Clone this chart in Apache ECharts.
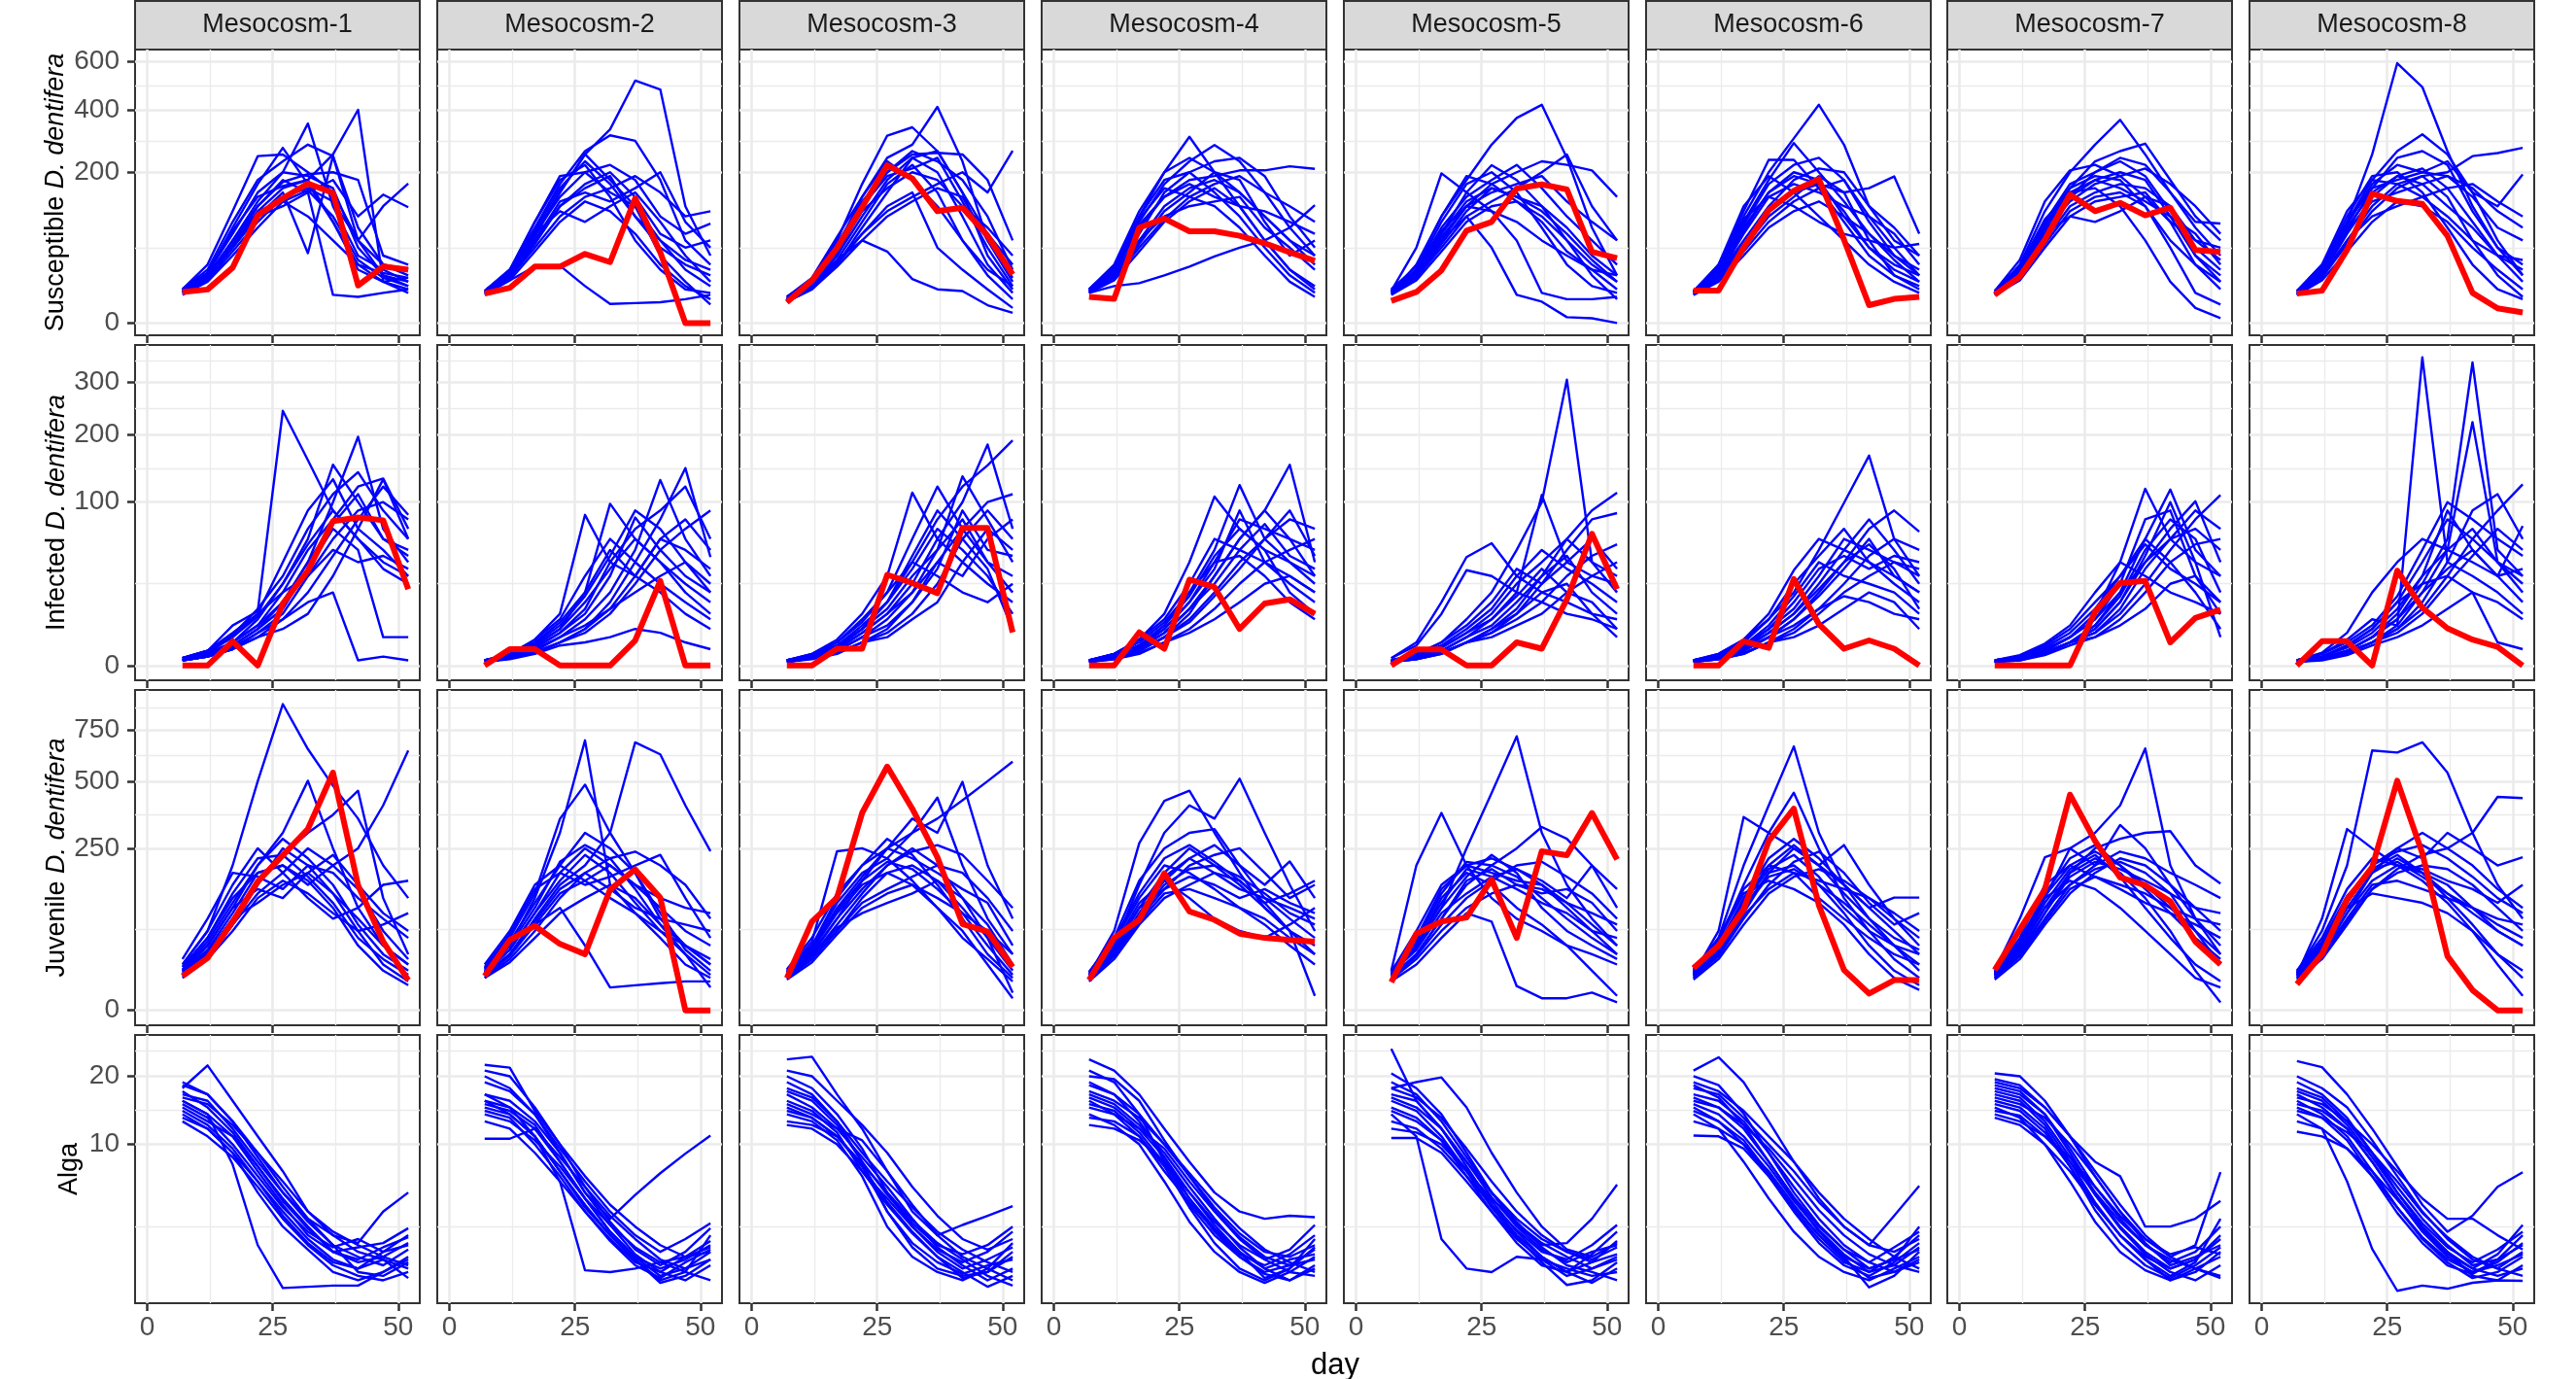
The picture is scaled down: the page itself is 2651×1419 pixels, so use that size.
<!DOCTYPE html>
<html>

<head>
  <meta charset="utf-8" />
  <title>Mesocosm simulations vs observations</title>
  <script src="https://cdn.jsdelivr.net/npm/echarts@6/dist/echarts.min.js"></script>
</head>

<body style="margin:0;background:#ffffff;">
  <div id="chart" style="width:2651px;height:1419px;"></div>
  <script type="text/javascript">

    // Sampling days (shared by every panel)
    let days = [7, 12, 17, 22, 27, 32, 37, 42, 47, 52];
    let mesocosms = ['Mesocosm-1', 'Mesocosm-2', 'Mesocosm-3', 'Mesocosm-4',
      'Mesocosm-5', 'Mesocosm-6', 'Mesocosm-7', 'Mesocosm-8'];
    let dayTicks = [0, 25, 50];
    let dayMinor = [12.5, 37.5];

    // y breaks (sqrt scale) per row; the last one is off-panel, used for minor lines
    let suscBreaks = [0, 200, 400, 600, 800];
    let infBreaks = [0, 100, 200, 300, 400];
    let juvBreaks = [0, 250, 500, 750, 1000];
    let algaBreaks = [0, 10, 20, 30];

    // Observed (red) lines, one per mesocosm
    let suscObs = [
      [8.5, 9.9, 27, 102, 137, 171, 149, 12.4, 28, 25],
      [7.6, 10.9, 28, 28, 42, 32.6, 137, 44, 0, 0],
      [3.8, 15.9, 49.7, 118, 219, 184, 110, 117, 67, 20.8],
      [6, 5.1, 80, 96, 74, 74, 67, 56, 44, 34],
      [4.3, 8.5, 24.4, 75, 90, 159, 169, 157, 44.5, 37],
      [9.2, 9.2, 50, 112, 154, 182, 61, 2.8, 5.1, 6],
      [7, 19, 61, 145, 110, 127, 102, 117, 47, 44.5],
      [7.6, 9.2, 47, 147, 131, 125, 67, 8, 1.9, 1]
    ];
    let infObs = [
      [0, 0, 2.2, 0, 14.4, 33.7, 78, 82, 79, 21.8],
      [0, 1, 1, 0, 0, 0, 2.35, 26.8, 0, 0],
      [0, 0, 1.06, 1.06, 30.8, 25.5, 19.6, 71, 71, 4.1],
      [0, 0, 4.1, 1.06, 27.6, 23, 5, 14.4, 16.4, 10],
      [0, 0.96, 0.96, 0, 0, 2, 1.06, 16.4, 65, 21.8],
      [0, 0, 2.2, 1.17, 28, 6.4, 1.06, 2.35, 1.06, 0],
      [0, 0, 0, 0, 10.8, 25.5, 26.8, 2, 8.5, 11.7],
      [0, 2.2, 2.2, 0, 33.7, 12.5, 5.2, 2.5, 1.3, 0]
    ];
    let juvObs = [
      [11.2, 26, 75, 158, 229, 313, 538, 149, 45, 8.7],
      [11.2, 47, 68, 42, 30, 139, 189, 121, 0, 0],
      [9.9, 75, 121, 371, 566, 387, 223, 71, 59, 18],
      [8.7, 50, 78, 179, 93, 78, 56, 50, 47, 45],
      [7.6, 56, 75, 82, 163, 50, 241, 229, 371, 217],
      [17, 40, 97, 273, 387, 105, 15.5, 2.7, 8.7, 8.7],
      [15.5, 62, 139, 443, 273, 168, 149, 113, 45, 20],
      [6.5, 30, 117, 195, 502, 235, 28, 3.9, 0, 0]
    ];

    // Simulated (blue) lines, 14 per mesocosm
    let suscSim = [
      [[10, 30, 110, 245, 250, 200, 150, 60, 30, 20], [9, 22, 80, 170, 270, 170, 90, 30, 22, 18],
      [8, 18, 60, 130, 200, 350, 120, 40, 25, 15], [9, 20, 55, 110, 160, 180, 250, 400, 15, 10],
      [10, 25, 90, 180, 230, 280, 245, 80, 30, 25], [8, 18, 50, 100, 150, 43, 245, 60, 20, 12],
      [9, 20, 55, 120, 180, 150, 7, 6, 8, 10], [8, 16, 45, 90, 140, 160, 130, 60, 120, 171],
      [9, 18, 50, 100, 120, 150, 180, 100, 145, 118], [10, 22, 70, 150, 200, 190, 160, 50, 20, 15],
      [8, 18, 50, 110, 130, 100, 60, 30, 15, 8], [9, 20, 60, 120, 175, 195, 200, 180, 40, 30],
      [7, 15, 40, 80, 130, 155, 100, 35, 18, 12], [9, 22, 75, 140, 165, 180, 90, 25, 15, 18]],
      [[8, 22, 70, 150, 250, 330, 517, 480, 120, 40], [9, 25, 80, 170, 260, 310, 292, 180, 60, 30],
      [8, 20, 65, 150, 251, 180, 120, 60, 25, 12], [9, 22, 70, 140, 200, 220, 180, 100, 70, 87],
      [8, 18, 55, 120, 170, 200, 140, 70, 50, 60], [8, 16, 28, 29, 12, 3.2, 3.5, 3.8, 5, 7],
      [9, 24, 90, 190, 200, 150, 120, 40, 15, 3], [8, 20, 60, 130, 150, 130, 160, 200, 90, 50],
      [9, 22, 75, 160, 230, 170, 100, 50, 30, 20], [8, 18, 50, 100, 140, 160, 190, 150, 100, 110],
      [7, 16, 45, 90, 130, 110, 70, 30, 12, 5], [9, 25, 90, 180, 220, 140, 60, 25, 10, 8],
      [8, 18, 60, 120, 160, 190, 100, 60, 35, 25], [8, 20, 70, 110, 90, 120, 150, 90, 40, 15]],
      [[5, 14, 50, 140, 240, 280, 411, 230, 60, 15], [6, 16, 60, 170, 309, 337, 260, 150, 40, 10],
      [5, 12, 40, 120, 200, 250, 255, 250, 180, 60], [4, 10, 30, 80, 150, 240, 260, 150, 70, 30],
      [6, 18, 65, 140, 230, 180, 120, 60, 25, 12], [5, 14, 35, 60, 45, 17, 10, 9, 2.8, 0.9],
      [5, 12, 30, 70, 110, 140, 170, 200, 150, 261], [4, 11, 35, 90, 170, 220, 150, 60, 20, 5],
      [6, 15, 45, 110, 160, 200, 180, 120, 80, 40], [5, 13, 40, 100, 180, 240, 200, 100, 30, 8],
      [5, 12, 32, 70, 120, 150, 50, 25, 10, 2], [6, 16, 55, 130, 200, 260, 230, 180, 100, 25],
      [4, 10, 28, 60, 100, 130, 160, 140, 60, 18], [5, 14, 45, 120, 190, 210, 240, 130, 50, 12]],
      [[10, 30, 110, 200, 305, 200, 120, 60, 25, 10], [9, 25, 90, 170, 230, 279, 230, 150, 80, 40],
      [8, 20, 70, 150, 200, 230, 240, 190, 100, 50], [9, 22, 80, 140, 180, 190, 205, 205, 216, 209],
      [10, 28, 100, 180, 200, 150, 100, 50, 20, 8], [8, 12, 14, 20, 28, 39, 50, 60, 80, 122],
      [9, 20, 60, 120, 160, 180, 150, 100, 60, 30], [10, 26, 95, 160, 140, 120, 80, 40, 15, 6],
      [8, 18, 55, 110, 150, 200, 180, 90, 40, 60], [9, 24, 85, 140, 170, 140, 120, 110, 90, 70],
      [8, 16, 45, 90, 130, 160, 120, 60, 25, 12], [10, 28, 100, 200, 240, 200, 150, 100, 60, 40],
      [9, 20, 60, 100, 120, 130, 140, 80, 50, 25], [8, 18, 50, 95, 140, 170, 190, 150, 120, 90]],
      [[8, 30, 100, 180, 280, 370, 419, 240, 80, 20], [9, 50, 197, 150, 110, 90, 60, 40, 25, 20],
      [8, 22, 70, 150, 219, 180, 120, 60, 30, 15], [7, 18, 60, 120, 170, 200, 230, 220, 205, 140],
      [9, 25, 90, 170, 200, 150, 80, 30, 12, 8], [8, 20, 60, 100, 50, 7, 4, 0.3, 0.2, 0],
      [9, 22, 75, 120, 110, 60, 8, 5, 5, 6], [8, 18, 55, 110, 160, 140, 120, 80, 40, 20],
      [9, 24, 80, 140, 180, 220, 160, 100, 60, 30], [8, 20, 65, 120, 150, 170, 190, 130, 90, 60],
      [10, 28, 100, 190, 170, 130, 90, 45, 25, 10], [8, 18, 50, 100, 130, 160, 200, 250, 120, 60],
      [9, 22, 70, 130, 160, 140, 110, 70, 35, 15], [7, 16, 45, 90, 120, 130, 100, 60, 20, 5]],
      [[8, 30, 100, 200, 300, 419, 280, 120, 60, 40], [9, 25, 90, 180, 285, 200, 130, 70, 40, 25],
      [8, 28, 110, 234, 234, 160, 90, 40, 20, 12], [9, 24, 85, 170, 220, 240, 180, 100, 50, 20],
      [7, 18, 55, 110, 150, 170, 150, 160, 189, 70], [8, 22, 75, 150, 200, 180, 100, 50, 25, 15],
      [9, 26, 95, 140, 120, 90, 70, 60, 50, 55], [8, 20, 60, 120, 180, 210, 200, 120, 80, 40],
      [7, 16, 45, 90, 130, 160, 180, 90, 40, 20], [9, 30, 120, 190, 150, 100, 60, 30, 15, 8],
      [8, 20, 70, 140, 170, 150, 120, 100, 70, 30], [8, 18, 50, 100, 140, 190, 150, 60, 20, 10],
      [9, 24, 80, 150, 190, 170, 110, 50, 30, 20], [7, 15, 40, 80, 110, 130, 100, 70, 35, 15]],
      [[8, 30, 110, 200, 280, 363, 250, 150, 80, 40], [7, 22, 80, 160, 230, 260, 283, 180, 100, 60],
      [9, 35, 130, 205, 220, 190, 140, 90, 60, 50], [8, 25, 90, 170, 200, 240, 220, 150, 90, 87],
      [7, 20, 70, 140, 180, 200, 180, 100, 40, 15], [8, 24, 85, 150, 160, 120, 60, 15, 2, 0.2],
      [7, 18, 55, 110, 140, 150, 120, 50, 8, 3], [8, 22, 75, 130, 170, 190, 210, 170, 120, 70],
      [9, 28, 95, 150, 180, 160, 130, 100, 70, 30], [7, 18, 60, 120, 150, 170, 160, 120, 40, 20],
      [8, 20, 70, 100, 90, 110, 140, 120, 60, 35], [8, 25, 80, 140, 200, 230, 190, 110, 50, 25],
      [7, 16, 50, 100, 130, 140, 150, 90, 30, 10], [9, 26, 90, 160, 190, 180, 120, 60, 30, 15]],
      [[9, 30, 90, 250, 594, 490, 260, 120, 50, 20], [8, 25, 90, 180, 260, 313, 250, 150, 60, 20],
      [8, 22, 75, 160, 240, 260, 220, 110, 50, 30], [7, 18, 60, 120, 170, 190, 200, 245, 254, 270],
      [8, 24, 85, 170, 220, 200, 230, 150, 120, 194], [9, 28, 100, 190, 200, 150, 80, 30, 10, 5],
      [7, 20, 70, 140, 190, 210, 160, 90, 40, 15], [8, 22, 75, 130, 150, 170, 190, 140, 80, 60],
      [7, 16, 45, 90, 130, 120, 90, 50, 25, 10], [9, 26, 90, 160, 180, 200, 190, 160, 110, 80],
      [8, 18, 55, 110, 160, 190, 140, 60, 20, 6], [7, 20, 60, 100, 120, 140, 160, 170, 130, 100],
      [8, 24, 80, 150, 190, 170, 120, 80, 40, 25], [9, 30, 110, 180, 170, 140, 100, 60, 40, 35]]
    ];

    let infSim = [
      [[0.2, 0.8, 6, 11, 243, 158, 90, 60, 40, 30], [0.1, 0.3, 1.5, 5, 15, 40, 100, 196, 70, 40],
      [0.1, 0.4, 2, 8, 25, 60, 151, 100, 60, 50], [0.2, 0.6, 2, 6, 20, 50, 80, 120, 131, 70],
      [0.1, 0.3, 1.2, 4, 10, 30, 60, 90, 100, 80], [0.2, 0.8, 3, 10, 40, 90, 130, 70, 50, 30],
      [0.1, 0.3, 1, 3, 8, 15, 20, 0.1, 0.3, 0.1], [0.1, 0.4, 1.5, 5, 12, 35, 70, 50, 3, 3],
      [0.2, 0.8, 3.5, 12, 30, 70, 110, 140, 90, 60], [0.1, 0.3, 1, 4, 8, 20, 45, 80, 120, 85],
      [0.2, 0.6, 3, 9, 25, 55, 90, 60, 35, 25], [0.1, 0.4, 2, 6, 15, 40, 75, 110, 60, 45],
      [0.1, 0.3, 1, 3, 5, 10, 30, 70, 130, 60], [0.2, 0.8, 4, 10, 20, 30, 50, 40, 45, 35]],
      [[0.1, 0.4, 2.5, 10, 85, 40, 30, 20, 10, 5], [0.1, 0.3, 1.5, 5, 20, 98, 60, 40, 25, 15],
      [0.1, 0.3, 1.2, 4, 10, 30, 82, 50, 30, 20], [0.05, 0.2, 0.8, 3, 8, 20, 50, 129, 60, 30],
      [0.05, 0.2, 0.6, 2, 5, 15, 40, 80, 146, 44], [0.1, 0.3, 1.2, 4, 12, 40, 70, 90, 120, 60],
      [0.1, 0.5, 2.5, 8, 30, 60, 40, 25, 15, 8], [0.05, 0.2, 0.6, 2, 4, 10, 25, 50, 70, 90],
      [0.1, 0.3, 1, 3, 6, 12, 20, 30, 40, 25], [0.1, 0.4, 1.5, 5, 15, 35, 60, 40, 20, 10],
      [0.05, 0.15, 0.5, 1.5, 2, 3, 5, 4, 2, 1], [0.1, 0.4, 1.8, 6, 18, 45, 90, 70, 40, 20],
      [0.05, 0.2, 0.7, 2, 5, 12, 30, 60, 50, 35], [0.1, 0.5, 2, 7, 20, 50, 30, 60, 80, 50]],
      [[0.1, 0.3, 1.2, 5, 15, 40, 80, 120, 150, 190], [0.1, 0.3, 1, 4, 10, 25, 60, 100, 183, 70],
      [0.05, 0.2, 0.8, 3, 8, 20, 50, 134, 80, 40], [0.1, 0.4, 2, 8, 20, 60, 120, 70, 40, 20],
      [0.1, 0.5, 2.5, 10, 30, 112, 60, 40, 25, 15], [0.05, 0.2, 0.6, 2, 5, 15, 40, 70, 100, 110],
      [0.1, 0.4, 1.5, 6, 15, 35, 70, 50, 30, 10], [0.05, 0.2, 0.6, 2, 4, 10, 25, 60, 90, 60],
      [0.1, 0.3, 1.2, 5, 12, 30, 50, 80, 40, 30], [0.1, 0.3, 1, 4, 10, 20, 40, 30, 60, 80],
      [0.05, 0.15, 0.5, 2, 3, 8, 15, 40, 70, 50], [0.1, 0.4, 1.5, 5, 15, 45, 90, 60, 35, 5],
      [0.1, 0.5, 2, 7, 20, 40, 30, 20, 15, 25], [0.05, 0.2, 0.8, 3, 6, 15, 35, 90, 50, 45]],
      [[0.1, 0.5, 2.5, 10, 40, 107, 70, 50, 40, 30], [0.1, 0.4, 1.5, 6, 20, 50, 122, 60, 40, 25],
      [0.05, 0.2, 0.8, 3, 10, 30, 60, 90, 151, 40], [0.1, 0.3, 1.2, 5, 15, 40, 80, 70, 60, 50],
      [0.05, 0.2, 0.8, 3, 8, 20, 40, 60, 80, 70], [0.1, 0.5, 2.5, 8, 25, 60, 50, 40, 30, 20],
      [0.05, 0.15, 0.6, 2, 5, 12, 25, 40, 50, 60], [0.1, 0.3, 1.2, 4, 12, 30, 60, 90, 60, 30],
      [0.1, 0.4, 1.5, 6, 18, 45, 70, 50, 20, 10], [0.05, 0.15, 0.5, 2, 4, 8, 15, 25, 30, 20],
      [0.1, 0.3, 1.5, 5, 15, 35, 90, 40, 25, 15], [0.05, 0.2, 0.8, 3, 7, 18, 35, 60, 90, 45],
      [0.1, 0.5, 2, 7, 20, 40, 45, 30, 15, 8], [0.05, 0.25, 1, 4, 12, 25, 50, 75, 45, 35]],
      [[0.1, 0.4, 2, 8, 20, 50, 100, 306, 40, 20], [0.2, 2, 15, 44, 56, 30, 20, 15, 10, 8],
      [0.2, 1.5, 10, 34, 30, 20, 15, 10, 8, 5], [0.05, 0.2, 0.8, 3, 8, 20, 109, 40, 30, 25],
      [0.05, 0.15, 0.6, 2, 5, 12, 30, 60, 90, 112], [0.05, 0.2, 0.6, 2, 4, 10, 25, 50, 80, 87],
      [0.1, 0.3, 1.2, 4, 10, 25, 40, 60, 40, 30], [0.05, 0.15, 0.5, 2, 4, 8, 15, 30, 45, 55],
      [0.1, 0.4, 1.5, 5, 12, 30, 50, 35, 25, 15], [0.05, 0.2, 0.8, 3, 6, 15, 30, 45, 20, 10],
      [0.1, 0.3, 1.2, 4, 8, 18, 35, 20, 30, 40], [0.05, 0.15, 0.5, 2, 3, 6, 10, 20, 15, 5],
      [0.1, 0.5, 2, 6, 15, 35, 25, 40, 60, 35], [0.05, 0.2, 0.6, 2, 5, 10, 20, 25, 10, 3]],
      [[0.1, 0.4, 2, 8, 20, 50, 99, 165, 60, 30], [0.1, 0.5, 2.5, 10, 34, 60, 50, 40, 30, 20],
      [0.05, 0.2, 0.8, 3, 8, 20, 40, 70, 90, 67], [0.1, 0.3, 1.2, 5, 12, 30, 60, 50, 40, 30],
      [0.05, 0.15, 0.6, 2, 5, 12, 25, 45, 60, 50], [0.1, 0.4, 1.5, 6, 18, 40, 30, 25, 20, 10],
      [0.05, 0.2, 0.8, 3, 8, 18, 35, 60, 30, 20], [0.1, 0.5, 2.5, 8, 25, 45, 70, 40, 25, 15],
      [0.05, 0.15, 0.5, 2, 4, 10, 20, 30, 40, 35], [0.1, 0.3, 1.2, 4, 10, 25, 50, 80, 50, 25],
      [0.05, 0.15, 0.5, 2, 3, 6, 12, 20, 15, 5], [0.1, 0.3, 1.5, 5, 15, 35, 45, 35, 45, 40],
      [0.05, 0.25, 1, 4, 10, 22, 40, 55, 35, 12], [0.1, 0.3, 1, 3, 6, 12, 18, 15, 10, 8]],
      [[0.05, 0.2, 0.8, 3, 10, 40, 117, 60, 40, 30], [0.05, 0.15, 0.6, 2, 6, 20, 60, 116, 50, 30],
      [0.05, 0.15, 0.6, 2, 5, 15, 40, 70, 101, 40], [0.05, 0.15, 0.5, 2, 4, 10, 25, 50, 80, 109],
      [0.1, 0.3, 1.5, 5, 15, 30, 60, 40, 20, 5], [0.05, 0.2, 0.8, 3, 8, 25, 80, 90, 30, 10],
      [0.1, 0.4, 1.8, 6, 20, 40, 30, 20, 15, 10], [0.05, 0.15, 0.6, 2, 4, 12, 35, 60, 70, 50],
      [0.05, 0.2, 0.7, 2, 6, 18, 50, 80, 60, 20], [0.05, 0.1, 0.4, 1.5, 3, 8, 20, 40, 55, 60],
      [0.1, 0.3, 1.2, 4, 12, 30, 55, 35, 25, 15], [0.05, 0.2, 0.6, 2, 5, 15, 45, 100, 40, 3],
      [0.05, 0.1, 0.5, 2, 3, 6, 12, 25, 30, 15], [0.1, 0.3, 1, 3, 8, 20, 40, 60, 90, 70]],
      [[0.1, 0.5, 2.5, 8, 6, 356, 40, 30, 20, 10], [0.05, 0.2, 0.8, 3, 8, 25, 60, 344, 50, 30],
      [0.05, 0.15, 0.6, 2, 6, 20, 50, 222, 40, 25], [0.05, 0.15, 0.6, 2, 5, 12, 30, 60, 90, 123],
      [0.1, 0.6, 4, 20, 40, 60, 50, 40, 30, 73], [0.1, 0.3, 1.5, 5, 15, 40, 80, 60, 40, 20],
      [0.05, 0.2, 0.8, 3, 10, 30, 90, 50, 30, 15], [0.05, 0.15, 0.5, 2, 4, 10, 25, 45, 70, 50],
      [0.1, 0.3, 1.2, 4, 12, 30, 50, 70, 40, 30], [0.05, 0.1, 0.4, 1.5, 3, 6, 12, 20, 2, 1],
      [0.1, 0.5, 2, 6, 18, 50, 100, 80, 60, 45], [0.05, 0.2, 0.7, 2, 5, 15, 40, 90, 110, 60],
      [0.1, 0.3, 1.5, 5, 15, 25, 30, 20, 15, 8], [0.05, 0.2, 0.8, 3, 8, 20, 35, 50, 30, 35]]
    ];

    let juvSim = [
      [[20, 60, 200, 500, 893, 650, 480, 350, 200, 120], [15, 40, 100, 200, 300, 502, 250, 100, 40, 20],
      [12, 30, 80, 160, 230, 300, 364, 459, 120, 30], [18, 50, 120, 180, 200, 150, 200, 250, 400, 643],
      [25, 80, 180, 170, 140, 200, 180, 120, 80, 50], [10, 25, 70, 150, 250, 200, 130, 60, 20, 8],
      [14, 35, 90, 180, 200, 160, 100, 40, 15, 6], [12, 28, 70, 130, 180, 250, 200, 140, 60, 25],
      [20, 60, 150, 250, 180, 120, 80, 100, 150, 160], [16, 45, 110, 200, 280, 220, 150, 70, 30, 15],
      [11, 25, 60, 120, 160, 130, 90, 60, 70, 90], [15, 40, 100, 140, 120, 180, 230, 150, 90, 60],
      [13, 32, 80, 110, 150, 180, 130, 80, 40, 20], [18, 50, 130, 220, 230, 170, 110, 50, 25, 12]],
      [[15, 40, 120, 300, 694, 150, 90, 60, 40, 20], [12, 30, 80, 150, 200, 300, 684, 624, 400, 241],
      [18, 50, 130, 349, 485, 300, 180, 80, 40, 20], [14, 35, 90, 180, 250, 200, 150, 100, 60, 40],
      [10, 25, 60, 120, 180, 220, 240, 200, 150, 80], [20, 60, 150, 200, 160, 120, 90, 50, 20, 10],
      [12, 30, 70, 100, 40, 5, 6, 7, 8, 8], [16, 45, 110, 200, 300, 250, 180, 90, 35, 15],
      [11, 28, 70, 130, 160, 200, 150, 120, 100, 90], [13, 35, 90, 160, 230, 180, 110, 60, 30, 12],
      [17, 55, 140, 180, 150, 170, 200, 230, 120, 50], [10, 22, 50, 90, 120, 150, 120, 70, 40, 25],
      [14, 40, 100, 210, 260, 220, 140, 70, 30, 5], [12, 30, 75, 140, 180, 140, 100, 80, 70, 60]],
      [[12, 40, 120, 200, 250, 300, 350, 420, 500, 589], [10, 30, 80, 160, 250, 350, 300, 497, 200, 80],
      [14, 45, 241, 250, 220, 300, 431, 200, 80, 30], [16, 50, 130, 200, 280, 230, 150, 80, 30, 10],
      [11, 28, 70, 130, 200, 250, 200, 120, 50, 15], [13, 35, 90, 150, 180, 150, 100, 60, 20, 1.4],
      [10, 25, 60, 110, 140, 170, 200, 180, 120, 60], [15, 40, 110, 180, 220, 160, 100, 50, 25, 8],
      [12, 32, 80, 140, 200, 240, 260, 230, 160, 100], [9, 22, 55, 100, 130, 150, 120, 90, 60, 30],
      [14, 38, 100, 170, 250, 220, 180, 140, 110, 40], [11, 28, 65, 90, 110, 130, 160, 120, 70, 20],
      [13, 35, 95, 160, 210, 190, 140, 90, 40, 12], [10, 25, 60, 120, 180, 200, 160, 100, 50, 3]],
      [[12, 60, 266, 418, 459, 300, 180, 100, 60, 40], [10, 40, 150, 300, 400, 350, 511, 300, 150, 60],
      [14, 50, 160, 250, 300, 313, 200, 120, 80, 50], [9, 30, 90, 160, 220, 260, 200, 150, 211, 120],
      [11, 35, 100, 180, 250, 200, 150, 100, 60, 30], [13, 45, 120, 200, 180, 140, 100, 70, 40, 20],
      [8, 25, 70, 120, 150, 180, 160, 110, 60, 2], [12, 40, 110, 160, 120, 80, 60, 50, 70, 100],
      [10, 30, 80, 140, 200, 230, 250, 180, 120, 150], [11, 32, 90, 170, 220, 180, 140, 120, 100, 80],
      [9, 28, 75, 130, 140, 120, 100, 80, 50, 30], [14, 48, 130, 220, 260, 210, 160, 110, 130, 160],
      [10, 30, 85, 150, 190, 200, 170, 130, 90, 70], [12, 38, 100, 140, 170, 150, 120, 140, 110, 90]],
      [[12, 40, 100, 250, 450, 715, 300, 150, 80, 40], [15, 200, 371, 200, 120, 80, 60, 40, 30, 20],
      [10, 30, 80, 150, 200, 250, 320, 280, 200, 140], [14, 60, 150, 200, 180, 160, 150, 100, 60, 30],
      [11, 40, 120, 180, 150, 100, 70, 40, 15, 2], [13, 35, 90, 130, 170, 190, 160, 120, 200, 100],
      [9, 25, 60, 100, 130, 150, 140, 110, 70, 40], [12, 45, 130, 210, 200, 170, 120, 80, 50, 30],
      [10, 28, 70, 120, 160, 200, 210, 170, 130, 80], [15, 50, 140, 200, 220, 190, 150, 110, 90, 70],
      [8, 20, 50, 90, 75, 5.6, 1.4, 1.4, 3, 0.6], [12, 38, 100, 170, 230, 180, 100, 60, 40, 25],
      [11, 30, 80, 160, 190, 150, 130, 140, 110, 60], [13, 42, 110, 190, 170, 140, 110, 90, 60, 50]],
      [[14, 50, 200, 400, 663, 300, 150, 80, 40, 20], [12, 60, 356, 300, 250, 200, 150, 100, 60, 30],
      [16, 45, 150, 300, 451, 250, 120, 60, 25, 10], [10, 30, 90, 180, 250, 200, 260, 150, 80, 40],
      [13, 40, 120, 220, 280, 220, 150, 100, 121, 121], [11, 35, 100, 180, 200, 150, 90, 40, 15, 6],
      [15, 50, 140, 200, 180, 120, 80, 50, 30, 20], [9, 25, 70, 130, 170, 190, 160, 120, 80, 50],
      [12, 40, 110, 190, 230, 170, 100, 60, 40, 30], [14, 48, 130, 160, 140, 110, 70, 30, 10, 4],
      [10, 28, 80, 150, 210, 240, 180, 110, 70, 90], [13, 42, 115, 200, 260, 200, 130, 80, 50, 35],
      [11, 32, 85, 140, 180, 160, 140, 120, 90, 60], [12, 38, 100, 170, 190, 150, 110, 70, 40, 15]],
      [[12, 40, 120, 250, 300, 400, 653, 200, 80, 30], [15, 80, 223, 250, 200, 327, 250, 150, 80, 40],
      [10, 30, 90, 180, 250, 280, 300, 306, 200, 153], [13, 45, 130, 220, 260, 200, 150, 100, 60, 30],
      [11, 35, 100, 180, 220, 180, 120, 60, 15, 0.6], [14, 50, 150, 200, 170, 140, 110, 90, 70, 50],
      [9, 25, 70, 130, 180, 220, 200, 150, 100, 60], [12, 40, 110, 190, 230, 170, 100, 50, 20, 8],
      [10, 30, 80, 150, 200, 240, 220, 180, 150, 120], [13, 42, 120, 160, 140, 100, 60, 30, 10, 5],
      [11, 33, 90, 170, 210, 190, 160, 130, 100, 90], [12, 38, 100, 150, 190, 210, 180, 130, 60, 20],
      [10, 28, 75, 140, 170, 150, 130, 100, 80, 70], [14, 45, 125, 200, 240, 200, 140, 90, 50, 25]],
      [[14, 60, 200, 643, 633, 684, 538, 300, 150, 80], [12, 80, 313, 250, 200, 180, 150, 100, 60, 40],
      [10, 30, 90, 180, 250, 300, 250, 300, 434, 429], [13, 45, 120, 200, 250, 220, 300, 250, 200, 223],
      [11, 35, 100, 180, 220, 180, 120, 70, 30, 10], [15, 50, 140, 220, 200, 160, 110, 60, 20, 2],
      [9, 25, 70, 140, 180, 200, 190, 150, 100, 60], [12, 40, 110, 190, 230, 180, 130, 90, 60, 40],
      [10, 30, 80, 150, 160, 140, 120, 100, 80, 70], [13, 42, 120, 200, 240, 260, 220, 170, 120, 90],
      [11, 33, 90, 160, 200, 190, 160, 140, 110, 150], [12, 38, 100, 130, 120, 110, 90, 60, 30, 15],
      [10, 28, 75, 140, 190, 230, 250, 200, 140, 100], [14, 45, 125, 190, 210, 170, 130, 100, 70, 50]]
    ];

    let algaSim = [
      [[18, 21.9, 16, 11, 7, 3.5, 2.0, 1.6, 3.5, 5.0], [16, 14, 7.7, 1.5, 0.16, 0.18, 0.2, 0.2, 0.5, 0.9],
      [18.5, 17, 13, 9, 5.5, 3, 1.5, 1.0, 0.7, 1.3], [15, 13, 11, 7.5, 4.5, 2.5, 1.2, 0.8, 1.0, 1.6],
      [17, 16, 12, 8, 5, 2.8, 1.5, 0.5, 0.4, 0.8], [14, 12, 9, 6, 3.5, 1.8, 0.9, 0.6, 1.2, 2.0],
      [16, 14, 11, 7, 4, 2, 1.2, 1.4, 1.6, 2.4], [13, 11, 8.5, 5.5, 3, 1.5, 0.7, 0.4, 0.3, 0.5],
      [19, 17, 13, 8.5, 5, 3, 2, 1.2, 0.9, 0.6], [15.5, 13.5, 10, 6.5, 3.8, 2.2, 1.4, 1.8, 1.2, 1.5],
      [14.5, 12.5, 9.5, 6, 3.2, 1.6, 0.8, 0.6, 0.9, 0.35], [17.5, 15, 11.5, 7.5, 4.3, 2.4, 1.2, 0.9, 1.4, 1.9],
      [16.5, 15.5, 12.5, 9, 6, 3.5, 2.2, 1.5, 1.0, 0.7], [13.5, 12, 9, 5, 2.5, 1.3, 0.5, 0.3, 0.5, 1.0]],
      [[20, 18, 14, 9, 5, 3.0, 4.8, 6.8, 8.9, 11.1], [10.7, 10.7, 12, 8, 4.5, 2.2, 1.0, 0.6, 0.9, 1.5],
      [21, 20, 15, 10, 5.5, 2.8, 1.3, 0.7, 1.2, 2.4], [16, 15, 12.5, 8, 4.5, 2.2, 1, 0.4, 0.6, 1.2],
      [15, 14, 11, 7, 3.8, 2, 0.9, 0.3, 0.5, 2.0], [17, 15, 11, 6, 0.55, 0.5, 0.6, 0.8, 1.0, 1.4],
      [14, 13, 10.5, 7.5, 4.5, 2.6, 1.4, 0.8, 0.5, 0.3], [19, 17.5, 14, 9.5, 6, 3.5, 2, 1.2, 1.8, 2.7],
      [13, 12, 9, 6, 3.5, 1.8, 0.8, 0.5, 1.0, 1.7], [15.5, 14.5, 12, 8.5, 5.5, 3.2, 1.8, 0.9, 0.6, 0.9],
      [17, 16, 13, 9, 5, 2.6, 1.1, 0.5, 0.3, 0.7], [14.5, 13.5, 10, 6.5, 3.5, 1.7, 0.7, 0.35, 0.8, 1.3],
      [22, 21.5, 14.5, 10, 6.5, 4, 2.5, 1.5, 1.0, 1.2], [16, 14, 11, 7, 4, 2, 0.9, 0.25, 0.4, 0.9]],
      [[23, 23.5, 17, 12, 7, 3.5, 2.0, 2.6, 3.2, 3.9], [21, 20, 16, 12.5, 9, 5.5, 3.2, 1.8, 1.3, 1.8],
      [19, 17, 13, 8, 3.5, 1.4, 0.6, 0.4, 0.5, 1.0], [17, 15, 12, 8.5, 5.5, 3, 1.4, 0.7, 0.3, 0.6],
      [15, 13.5, 11, 7.5, 4.2, 2.2, 1.0, 0.35, 0.5, 1.2], [14, 13, 10.5, 6.5, 2.5, 1.0, 0.5, 0.3, 0.6, 1.6],
      [18, 16.5, 13, 9, 6, 3.8, 2.2, 1.3, 0.8, 0.5], [16, 14.5, 11.5, 7, 4, 2.1, 1.0, 0.5, 0.18, 0.4],
      [12.5, 12, 10, 7, 4.5, 2.5, 1.3, 0.8, 1.2, 2.2], [20, 18, 14, 9.5, 5, 2.5, 1.2, 0.6, 0.9, 1.4],
      [15.5, 14, 12, 10.5, 7, 4, 2, 1.0, 0.6, 0.3], [13, 12.5, 11, 7.5, 3.5, 1.6, 0.8, 0.45, 0.7, 0.9],
      [17.5, 16, 12.5, 8, 4.8, 2.7, 1.5, 1.1, 1.5, 2.5], [14.5, 13.5, 11, 7.8, 5, 2.9, 1.6, 0.9, 0.4, 0.2]],
      [[23, 21, 17, 12, 8, 5, 3.5, 3.0, 3.2, 3.1], [20, 19.5, 16, 10.5, 6.5, 3.8, 2.1, 1.2, 1.0, 1.5],
      [18.5, 17, 13, 8.5, 4.5, 2.2, 1.0, 0.5, 0.7, 1.3], [17, 15.5, 12.5, 9, 5.5, 3, 1.4, 0.6, 0.3, 0.6],
      [16, 14, 11, 7.5, 3.8, 1.6, 0.6, 0.3, 0.6, 1.8], [15, 14, 12, 9.5, 6, 3.5, 1.8, 0.9, 0.5, 0.4],
      [14, 12.5, 10, 6, 2.8, 1.2, 0.5, 0.25, 0.5, 1.0], [12.5, 12, 10.5, 8, 5, 2.8, 1.5, 0.9, 1.3, 2.6],
      [19, 17, 14, 10, 6.8, 4.2, 2.4, 1.3, 0.8, 0.5], [21, 19, 14, 8, 4, 2, 1.0, 0.45, 0.3, 0.7],
      [16.5, 15, 12, 8.5, 5, 2.6, 1.2, 0.6, 0.9, 1.1], [13.5, 13, 11, 7, 4.2, 2.3, 1.1, 0.7, 1.1, 2.0],
      [17.5, 16, 13.5, 10, 6.5, 3.6, 1.9, 1.0, 0.7, 0.9], [15.5, 14.5, 11.5, 7.8, 4.5, 2.4, 1.2, 0.35, 0.6, 1.4]],
      [[25, 16, 12, 8, 5, 3, 1.8, 1.2, 0.9, 1.4], [18, 19, 19.8, 15, 9, 5, 2.5, 1.3, 1.0, 1.6],
      [14, 11, 1.8, 0.6, 0.5, 1.0, 0.9, 0.6, 0.4, 0.5], [20.5, 18, 14, 9, 5, 2.6, 1.5, 1.6, 3.0, 5.7],
      [17, 16, 12, 7.5, 4, 2, 1.0, 0.5, 0.8, 1.7], [10.8, 10.8, 9, 6, 3.5, 1.8, 0.9, 0.4, 0.6, 1.0],
      [16, 14.5, 11, 7, 3.8, 1.9, 0.8, 0.21, 0.3, 0.8], [19, 17, 13, 8.5, 5, 2.8, 1.4, 0.7, 0.5, 0.3],
      [15, 13.5, 10.5, 6.5, 3.5, 1.6, 0.7, 0.5, 1.1, 2.2], [13, 12, 9.5, 6.5, 4, 2.3, 1.2, 0.9, 1.5, 2.6],
      [18, 16.5, 13.5, 9.5, 6, 3.5, 2, 1.2, 0.8, 1.1], [14.5, 13, 10.5, 7.2, 4.3, 2.2, 1.0, 0.5, 0.25, 0.6],
      [16.5, 15, 12, 8, 4.6, 2.5, 1.3, 0.8, 1.2, 1.5], [12, 11.5, 10, 7, 4.5, 2.7, 1.6, 1.0, 0.6, 0.9]],
      [[21, 23.4, 19, 13, 8, 4.5, 2.5, 1.5, 3.2, 5.6], [20, 18.5, 14.1, 9, 5, 2.6, 1.3, 0.6, 0.9, 2.5],
      [18, 17, 13.5, 10, 7, 4.2, 2.5, 1.5, 1.2, 1.8], [16.5, 15, 12, 8, 4.5, 2.2, 1.0, 0.17, 0.4, 1.2],
      [15, 13, 10, 6.5, 3.5, 1.6, 0.7, 0.4, 0.8, 1.6], [14, 12, 8, 4.5, 2.2, 1.0, 0.5, 0.3, 0.6, 1.0],
      [19, 17.5, 14.5, 11, 8, 5, 3, 1.8, 1.0, 0.6], [11.1, 11, 9.5, 6.5, 3.8, 2, 1.0, 0.6, 0.9, 1.3],
      [17, 16, 13, 9, 5.5, 3, 1.5, 0.8, 0.5, 0.8], [15.5, 14, 11, 7.5, 4.3, 2.3, 1.1, 0.5, 1.0, 2.0],
      [13, 12, 10, 7, 4, 2, 0.9, 0.35, 0.5, 0.9], [18.5, 16.5, 12.5, 8, 4.6, 2.5, 1.3, 0.8, 1.4, 2.2],
      [16, 15, 12.5, 9.5, 6.2, 3.6, 2.0, 1.1, 0.7, 0.5], [14.5, 13, 10.5, 6.8, 3.6, 1.8, 0.8, 0.5, 0.7, 1.4]],
      [[20.5, 20, 16, 11, 6.5, 3.5, 1.8, 1.0, 1.5, 6.9], [19.5, 18.5, 15, 11, 8, 6.5, 2.5, 2.5, 3.0, 4.3],
      [18, 17, 14, 9, 5, 2.5, 1.2, 0.6, 0.9, 1.8], [17, 16, 12.5, 8, 4.2, 2, 0.9, 0.3, 0.5, 1.2],
      [16, 15, 12, 7.5, 3.6, 1.6, 0.7, 0.35, 0.7, 1.4], [15, 13.5, 10, 6, 2.8, 1.2, 0.55, 0.3, 0.6, 1.0],
      [19, 18, 15, 11, 7, 4, 2, 1.0, 0.6, 0.4], [14, 13, 11, 8, 5, 2.8, 1.5, 0.8, 1.2, 2.5],
      [17.5, 16.5, 13, 8.5, 4.8, 2.4, 1.1, 0.5, 0.3, 0.7], [16.5, 15.5, 13.5, 10, 6.5, 3.5, 1.6, 0.7, 1.0, 1.5],
      [13.5, 12.5, 10, 7, 4, 2, 0.9, 0.4, 0.8, 3.0], [18.5, 17.5, 14, 9.5, 5.5, 3, 1.5, 0.9, 0.6, 0.35],
      [15.5, 14.5, 11.5, 7.5, 4, 2, 1.0, 0.6, 0.9, 2.0], [14.5, 13.8, 11, 8.5, 5.5, 3.2, 1.8, 1.1, 1.4, 1.1]],
      [[22.7, 21.6, 17, 12, 7.5, 4, 2.2, 3.2, 5.5, 6.9], [14, 12, 6, 1.33, 0.12, 0.2, 0.15, 0.25, 0.3, 0.29],
      [20, 18, 15, 10.5, 6.5, 3.5, 1.8, 0.9, 0.6, 1.2], [18, 16.5, 13, 9, 5.5, 3, 1.5, 0.7, 0.9, 2.0],
      [17, 15, 12, 8, 4.5, 2.2, 1.0, 0.5, 0.8, 1.6], [16, 14, 11, 7, 3.8, 1.8, 0.8, 0.35, 0.5, 1.0],
      [15, 13.5, 11.5, 9, 6, 3.4, 1.9, 1.0, 0.6, 0.4], [11.6, 11, 9.5, 7, 4.4, 2.4, 1.2, 0.6, 1.1, 2.6],
      [19, 17, 13.5, 9, 5, 2.5, 1.2, 0.4, 0.3, 0.7], [14.5, 13.5, 10.5, 6.5, 3.4, 1.6, 0.7, 0.45, 0.9, 1.5],
      [16.5, 15.5, 13, 10, 7, 4.5, 3.0, 3.0, 2.0, 1.3], [13, 12, 9.5, 6.5, 3.8, 1.9, 0.9, 0.5, 0.7, 1.1],
      [17.5, 16, 12.5, 8.5, 5, 2.7, 1.4, 0.8, 1.3, 2.2], [15.5, 14.5, 12, 8, 4.6, 2.3, 1.1, 0.6, 0.4, 0.6]]
    ];

    // Layout of the facet grid (pixels)
    var panelLeft = 139, panelPitch = 310.9, panelWidth = 293;
    var rowTop = [51, 355, 710, 1065];
    var rowHeight = [294, 345, 345, 276];
    // axis ranges on the sqrt scale
    var yRange = [[-1.15, 25.65], [-0.905, 19.62], [-1.455, 31.26], [0.108, 5.266]];
    var xRange = [-2.45, 54.3];

    var rows = [
      { obs: suscObs, sim: suscSim, breaks: suscBreaks, title: '{n|Susceptible }{i|D. dentifera}', gap: 68 },
      { obs: infObs, sim: infSim, breaks: infBreaks, title: '{n|Infected }{i|D. dentifera}', gap: 64 },
      { obs: juvObs, sim: juvSim, breaks: juvBreaks, title: '{n|Juvenile }{i|D. dentifera}', gap: 64 },
      { obs: null, sim: algaSim, breaks: algaBreaks, title: '{n|Alga}', gap: 54 }
    ];

    var fontFamily = '"Liberation Sans", Arial, Helvetica, sans-serif';
    var majorStyle = { color: '#EBEBEB', width: 2.6, type: 'solid' };
    var minorStyle = { color: '#EBEBEB', width: 1.3, type: 'solid' };

    function toSeriesData(values) {
      return days.map(function (d, i) { return [d, Math.sqrt(values[i])]; });
    }

    var grids = [], xAxes = [], yAxes = [], series = [], graphics = [];

    rows.forEach(function (row, r) {
      var lo = yRange[r][0], hi = yRange[r][1];
      var sq = row.breaks.map(Math.sqrt);
      var majors = sq.filter(function (v) { return v >= lo && v <= hi; });
      var minors = [];
      for (var k = 0; k < sq.length - 1; k++) {
        var m = (sq[k] + sq[k + 1]) / 2;
        if (m >= lo && m <= hi) minors.push(m);
      }

      for (var c = 0; c < 8; c++) {
        var idx = grids.length;
        var left = panelLeft + Math.round(c * panelPitch);
        grids.push({
          left: left, top: rowTop[r], width: panelWidth, height: rowHeight[r],
          show: true, backgroundColor: '#ffffff', borderColor: '#333333', borderWidth: 2
        });

        xAxes.push({
          gridIndex: idx, type: 'value', min: xRange[0], max: xRange[1],
          axisLine: { show: false, onZero: false },
          splitLine: { show: false },
          axisTick: { show: true, customValues: dayTicks, length: 8, lineStyle: { color: '#333333', width: 2.5 } },
          axisLabel: {
            show: r === 3, customValues: dayTicks, margin: 11, fontSize: 28,
            color: '#4D4D4D', fontFamily: fontFamily
          }
        });

        var yAxis = {
          gridIndex: idx, type: 'value', min: lo, max: hi,
          axisLine: { show: false, onZero: false },
          splitLine: { show: false },
          axisTick: { show: c === 0, customValues: majors, length: 8, lineStyle: { color: '#333333', width: 2.5 } },
          axisLabel: {
            show: c === 0, customValues: majors, margin: 16, fontSize: 28,
            color: '#4D4D4D', fontFamily: fontFamily,
            formatter: function (v) { return String(Math.round(v * v)); }
          }
        };
        if (c === 0) {
          yAxis.name = row.title;
          yAxis.nameLocation = 'middle';
          yAxis.nameGap = row.gap;
          yAxis.nameTextStyle = {
            fontFamily: fontFamily, fontSize: 27, color: '#000000',
            rich: {
              n: { fontFamily: fontFamily, fontSize: 27, color: '#000000' },
              i: { fontFamily: fontFamily, fontSize: 27, color: '#000000', fontStyle: 'italic' }
            }
          };
        }
        yAxes.push(yAxis);

        // background grid lines (ggplot theme_bw look)
        var lines = [];
        minors.forEach(function (v) { lines.push({ yAxis: v, lineStyle: minorStyle }); });
        dayMinor.forEach(function (v) { lines.push({ xAxis: v, lineStyle: minorStyle }); });
        majors.forEach(function (v) { lines.push({ yAxis: v, lineStyle: majorStyle }); });
        dayTicks.forEach(function (v) { lines.push({ xAxis: v, lineStyle: majorStyle }); });
        series.push({
          type: 'line', xAxisIndex: idx, yAxisIndex: idx, data: [], z: 1, silent: true,
          markLine: {
            silent: true, symbol: ['none', 'none'], label: { show: false },
            animation: false, z: 1, emphasis: { disabled: true }, data: lines
          }
        });

        row.sim[c].forEach(function (vals) {
          series.push({
            type: 'line', xAxisIndex: idx, yAxisIndex: idx, z: 3,
            data: toSeriesData(vals), symbol: 'none', silent: true,
            lineStyle: { color: '#0000FF', width: 2.4, join: 'round' },
            emphasis: { disabled: true }
          });
        });

        if (row.obs) {
          series.push({
            type: 'line', xAxisIndex: idx, yAxisIndex: idx, z: 4,
            data: toSeriesData(row.obs[c]), symbol: 'none', silent: true,
            lineStyle: { color: '#FF0000', width: 6, join: 'round' },
            emphasis: { disabled: true }
          });
        }
      }
    });

    // facet strips on top of the first row
    mesocosms.forEach(function (name, c) {
      var left = panelLeft + Math.round(c * panelPitch);
      graphics.push({
        type: 'rect', shape: { x: left, y: 1, width: panelWidth, height: 50 },
        style: { fill: '#D9D9D9', stroke: '#333333', lineWidth: 2 }, silent: true
      });
      graphics.push({
        type: 'text', x: left + panelWidth / 2, y: 26, silent: true,
        style: {
          text: name, fill: '#1A1A1A', fontSize: 27, fontFamily: fontFamily,
          align: 'center', verticalAlign: 'middle'
        }
      });
    });
    graphics.push({
      type: 'text', x: 1374, y: 1405, silent: true,
      style: {
        text: 'day', fill: '#000000', fontSize: 31, fontFamily: fontFamily,
        align: 'center', verticalAlign: 'middle'
      }
    });

    var chart = echarts.init(document.getElementById('chart'));
    chart.setOption({
      animation: false,
      backgroundColor: '#ffffff',
      textStyle: { fontFamily: fontFamily },
      grid: grids,
      xAxis: xAxes,
      yAxis: yAxes,
      series: series,
      graphic: graphics
    });
  </script>
</body>

</html>
